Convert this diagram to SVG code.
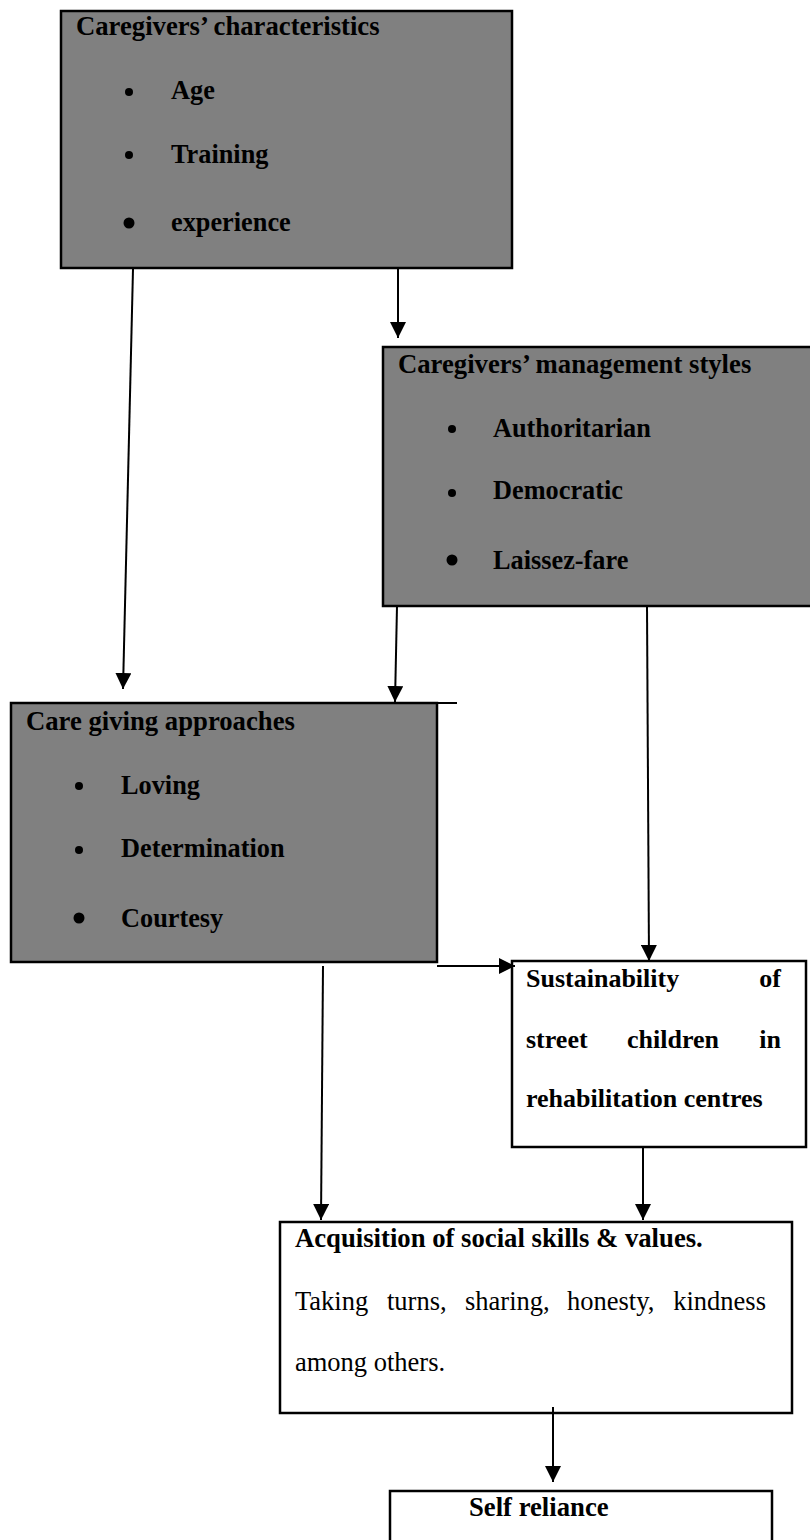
<svg xmlns="http://www.w3.org/2000/svg" width="810" height="1540" viewBox="0 0 810 1540">
<style>
.gray{fill:#808080;stroke:#000;stroke-width:2.5}
.white{fill:#fff;stroke:#000;stroke-width:2.5}
.b{font-family:"Liberation Serif","Times New Roman",serif;font-weight:bold;font-size:26.3px;fill:#000}
.h{font-family:"Liberation Serif","Times New Roman",serif;font-weight:bold;font-size:26.7px;fill:#000}
.s{font-family:"Liberation Serif","Times New Roman",serif;font-weight:bold;font-size:26px;fill:#000}
.r{font-family:"Liberation Serif","Times New Roman",serif;font-size:26.5px;fill:#000}
.c{stroke:#000;stroke-width:2;fill:none}
.dot{fill:#000}
</style>
<defs>
<marker id="ah" markerUnits="userSpaceOnUse" markerWidth="16" markerHeight="16" refX="15" refY="7.5" orient="auto" viewBox="0 0 15 15">
<path d="M0,0 L15,7.5 L0,15 z" fill="#000"/>
</marker>
</defs>
<rect width="810" height="1540" fill="#fff"/>

<g id="characteristics">
<rect class="gray" x="61" y="11" width="451" height="257"/>
<text class="h" x="76" y="35">Caregivers’ characteristics</text>
<circle class="dot" cx="129" cy="92" r="4"/>
<text class="b" x="171" y="99">Age</text>
<circle class="dot" cx="129" cy="155" r="4"/>
<text class="b" x="171" y="163">Training</text>
<circle class="dot" cx="129" cy="223" r="5.5"/>
<text class="b" x="171" y="231">experience</text>
</g>

<g id="management">
<rect class="gray" x="383" y="347" width="432" height="259"/>
<text class="h" x="398" y="373">Caregivers’ management styles</text>
<circle class="dot" cx="452" cy="429" r="4"/>
<text class="b" x="493" y="437">Authoritarian</text>
<circle class="dot" cx="452" cy="493" r="4"/>
<text class="b" x="493" y="499">Democratic</text>
<circle class="dot" cx="452" cy="560" r="5.5"/>
<text class="b" x="493" y="569">Laissez-fare</text>
</g>

<g id="approaches">
<rect class="gray" x="11" y="703" width="426" height="259"/>
<line class="c" x1="437" y1="703" x2="457" y2="703"/>
<text class="h" x="26" y="730">Care giving approaches</text>
<circle class="dot" cx="79" cy="786" r="4"/>
<text class="b" x="121" y="794">Loving</text>
<circle class="dot" cx="79" cy="850" r="4"/>
<text class="b" x="121" y="857">Determination</text>
<circle class="dot" cx="79" cy="918" r="5.5"/>
<text class="b" x="121" y="927">Courtesy</text>
</g>

<g id="sustainability">
<rect class="white" x="512" y="961" width="294" height="186"/>
<text class="s" x="526" y="987">Sustainability</text>
<text class="s" x="781" y="987" text-anchor="end">of</text>
<text class="s" x="526" y="1048">street</text>
<text class="s" x="627" y="1048">children</text>
<text class="s" x="781" y="1048" text-anchor="end">in</text>
<text class="s" x="526" y="1107">rehabilitation centres</text>
</g>

<g id="acquisition">
<rect class="white" x="280" y="1222" width="512" height="191"/>
<text class="h" x="295" y="1247">Acquisition of social skills &amp; values.</text>
<text class="r" x="295" y="1310">Taking</text>
<text class="r" x="387" y="1310">turns,</text>
<text class="r" x="465" y="1310">sharing,</text>
<text class="r" x="567" y="1310">honesty,</text>
<text class="r" x="766" y="1310" text-anchor="end">kindness</text>
<text class="r" x="295" y="1371">among others.</text>
</g>

<g id="selfreliance">
<rect class="white" x="390" y="1491" width="382" height="60"/>
<text class="h" x="469" y="1516">Self reliance</text>
</g>

<g id="connectors">
<line class="c" x1="133" y1="269" x2="123" y2="689" marker-end="url(#ah)"/>
<line class="c" x1="398" y1="269" x2="398" y2="338" marker-end="url(#ah)"/>
<line class="c" x1="397" y1="606" x2="395" y2="702" marker-end="url(#ah)"/>
<line class="c" x1="647" y1="606" x2="649" y2="961" marker-end="url(#ah)"/>
<line class="c" x1="437" y1="966" x2="515" y2="966" marker-end="url(#ah)"/>
<line class="c" x1="323" y1="966" x2="321" y2="1220" marker-end="url(#ah)"/>
<line class="c" x1="643" y1="1147" x2="643" y2="1220" marker-end="url(#ah)"/>
<line class="c" x1="553" y1="1407" x2="553" y2="1482" marker-end="url(#ah)"/>
</g>
</svg>
